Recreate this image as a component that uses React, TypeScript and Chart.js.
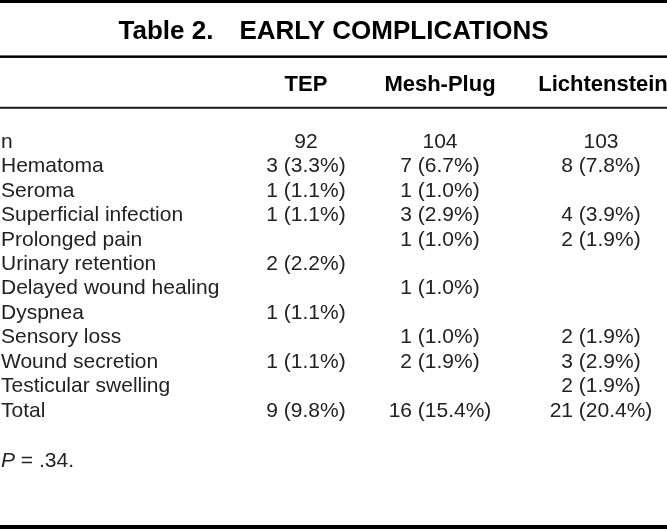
import React, { useEffect, useRef } from "react";
import { Chart, registerables } from "chart.js";

Chart.register(...registerables);

// ---- data ----
const titleLead = "Table 2.";
const titleMain = "EARLY COMPLICATIONS";
const groups = ["TEP", "Mesh-Plug", "Lichtenstein"];
const rowLabels = [
  "n",
  "Hematoma",
  "Seroma",
  "Superficial infection",
  "Prolonged pain",
  "Urinary retention",
  "Delayed wound healing",
  "Dyspnea",
  "Sensory loss",
  "Wound secretion",
  "Testicular swelling",
  "Total",
];
const tepCounts = [92, 3, 1, 1, null, 2, null, 1, null, 1, null, 9];
const tepPct = [null, 3.3, 1.1, 1.1, null, 2.2, null, 1.1, null, 1.1, null, 9.8];
const meshCounts = [104, 7, 1, 3, 1, null, 1, null, 1, 2, null, 16];
const meshPct = [null, 6.7, 1.0, 2.9, 1.0, null, 1.0, null, 1.0, 1.9, null, 15.4];
const lichCounts = [103, 8, null, 4, 2, null, null, null, 2, 3, 2, 21];
const lichPct = [null, 7.8, null, 3.9, 1.9, null, null, null, 1.9, 2.9, 1.9, 20.4];
const footLabel = "P";
const footValue = " = .34.";

// ---- layout (scale units) ----
const W = 667;
const H = 529;
const ROW_PITCH = 24.45; // px per row unit
const FIRST_ROW_PX = 142;
const Y_MIN = -FIRST_ROW_PX / ROW_PITCH;
const Y_MAX = Y_MIN + H / ROW_PITCH;
const TITLE_ROW = -4.5;
const HEADER_ROW = -2.35;
const TITLE_RULE_ROW = -3.49;
const HEADER_RULE_ROW = -1.4;
const FOOT_ROW = 13.05;
const COL_X = [306, 440, 601];

const BODY_FONT = '21px "Liberation Sans", Arial, Helvetica, sans-serif';
const BOLD_FONT = 'bold 22px "Liberation Sans", Arial, Helvetica, sans-serif';
const TITLE_FONT = 'bold 26px "Liberation Sans", Arial, Helvetica, sans-serif';
const ITALIC_FONT = 'italic 21px "Liberation Sans", Arial, Helvetica, sans-serif';
const TEXT_COLOR = "#222";

const counts = [tepCounts, meshCounts, lichCounts];
const pcts = [tepPct, meshPct, lichPct];

function cellText(col: number, row: number): string {
  const c = counts[col][row];
  if (c === null || c === undefined) return "";
  const p = pcts[col][row];
  return p === null || p === undefined ? String(c) : `${c} (${p.toFixed(1)}%)`;
}

const tablePlugin = {
  id: "tableText",
  afterDatasetsDraw(chart: any) {
    const ctx = chart.ctx as CanvasRenderingContext2D;
    const ys = chart.scales.y;
    const xs = chart.scales.x;
    const area = chart.chartArea;
    const fullW = area.right - area.left;
    ctx.save();

    // rules
    ctx.fillStyle = "#000";
    ctx.fillRect(area.left, area.top, fullW, 3);
    ctx.fillRect(area.left, ys.getPixelForValue(TITLE_RULE_ROW) - 1.25, fullW, 2.5);
    ctx.fillStyle = "#1a1a1a";
    ctx.fillRect(area.left, ys.getPixelForValue(HEADER_RULE_ROW) - 1, fullW, 2);
    ctx.fillStyle = "#000";
    ctx.fillRect(area.left, area.bottom - 4, fullW, 4);

    // title
    ctx.textBaseline = "middle";
    ctx.fillStyle = "#000";
    ctx.font = TITLE_FONT;
    const gap = 26;
    const w1 = ctx.measureText(titleLead).width;
    const w2 = ctx.measureText(titleMain).width;
    const cx = (xs.getPixelForValue(0) + xs.getPixelForValue(W)) / 2;
    const startX = cx - (w1 + gap + w2) / 2;
    const ty = ys.getPixelForValue(TITLE_ROW);
    ctx.textAlign = "left";
    ctx.fillText(titleLead, startX, ty);
    ctx.fillText(titleMain, startX + w1 + gap, ty);

    // headers
    ctx.font = BOLD_FONT;
    ctx.textAlign = "center";
    groups.forEach((g, i) => {
      const hx = i === 2 ? COL_X[i] + 2 : COL_X[i];
      ctx.fillText(g, xs.getPixelForValue(hx), ys.getPixelForValue(HEADER_ROW));
    });

    // body cells from dataset elements
    ctx.fillStyle = TEXT_COLOR;
    ctx.font = BODY_FONT;
    chart.data.datasets.forEach((ds: any, di: number) => {
      const meta = chart.getDatasetMeta(di);
      meta.data.forEach((el: any, ri: number) => {
        if (ds.kind === "label") {
          ctx.textAlign = "left";
          ctx.fillText(rowLabels[ri], el.x + 1, el.y);
        } else {
          const t = cellText(ds.col, ri);
          if (!t) return;
          ctx.textAlign = "center";
          ctx.fillText(t, el.x, el.y);
        }
      });
    });

    // footnote
    const fy = ys.getPixelForValue(FOOT_ROW);
    ctx.textAlign = "left";
    ctx.font = ITALIC_FONT;
    ctx.fillText(footLabel, xs.getPixelForValue(0) + 1, fy);
    const pw = ctx.measureText(footLabel).width;
    ctx.font = BODY_FONT;
    ctx.fillText(footValue, xs.getPixelForValue(0) + 1 + pw, fy);

    ctx.restore();
  },
};

export default function App() {
  const ref = useRef<HTMLCanvasElement | null>(null);

  useEffect(() => {
    document.body.style.margin = "0";
    document.body.style.background = "#fff";
    if (!ref.current) return;
    const datasets: any[] = [
      {
        kind: "label",
        data: rowLabels.map((_, i) => ({ x: 0, y: i })),
        pointRadius: 0,
        showLine: false,
      },
      ...groups.map((g, ci) => ({
        kind: "cell",
        col: ci,
        label: g,
        data: rowLabels.map((_, i) => ({ x: COL_X[ci], y: i })),
        pointRadius: 0,
        showLine: false,
      })),
    ];
    const chart = new Chart(ref.current, {
      type: "scatter",
      data: { datasets },
      options: {
        animation: false,
        responsive: false,
        maintainAspectRatio: false,
        layout: { padding: 0 },
        events: [],
        plugins: {
          legend: { display: false },
          tooltip: { enabled: false },
          title: { display: false },
        },
        scales: {
          x: { type: "linear", min: 0, max: W, display: false },
          y: { type: "linear", min: Y_MIN, max: Y_MAX, reverse: true, display: false },
        },
      },
      plugins: [tablePlugin],
    } as any);
    return () => chart.destroy();
  }, []);

  return (
    <div style={{ width: W, height: H, background: "#fff" }}>
      <canvas ref={ref} width={W} height={H} style={{ display: "block" }} />
    </div>
  );
}
